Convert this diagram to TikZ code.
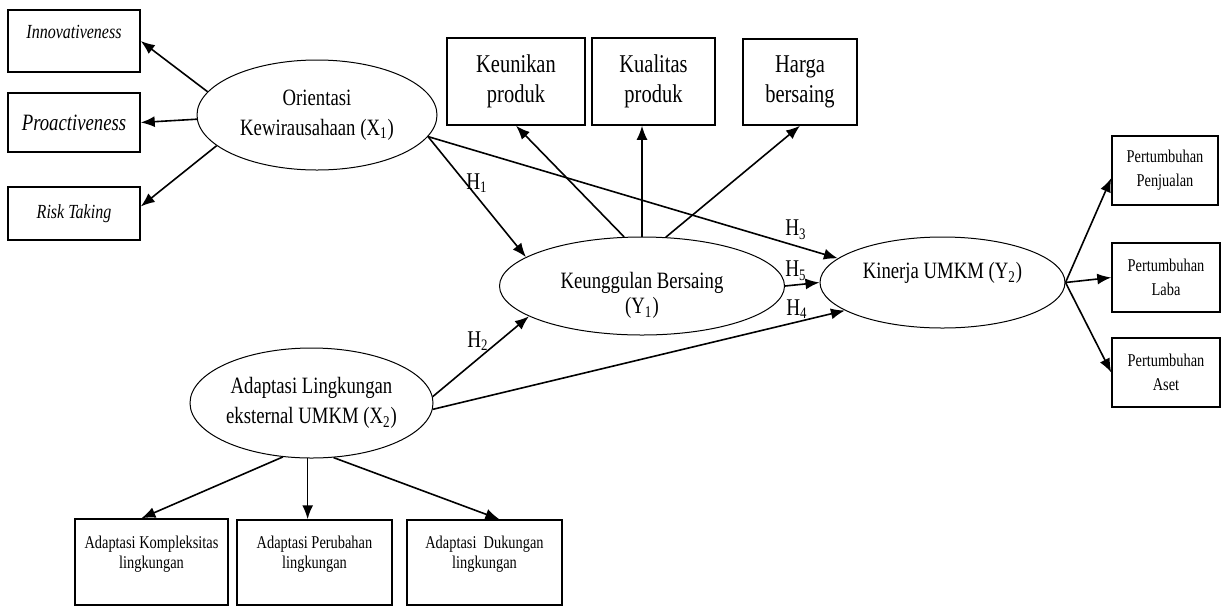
\documentclass[tikz,border=0pt]{standalone}
\usepackage{fontspec}
\setmainfont{Liberation Serif}[FakeStretch=0.8]
\usetikzlibrary{shapes.geometric,arrows.meta}

\begin{document}
\begin{tikzpicture}[x=0.5pt,y=-0.5pt,
  latent/.style={ellipse,draw,line width=0.5pt,inner sep=0pt,align=center,font=\fontsize{11.7}{15}\selectfont},
  ind/.style={rectangle,draw,line width=0.75pt,inner sep=0pt,align=center},
  arr/.style={-{Latex[length=7pt,width=5.5pt]},line width=0.8pt},
  hyp/.style={inner sep=0pt,font=\fontsize{12}{14}\selectfont}]
  \useasboundingbox (0,0) rectangle (1225,606);

  % latent variables
  \node[latent,minimum width=120pt,minimum height=55pt] (x1) at (317,115) {Orientasi\\Kewirausahaan (X\textsubscript{1})};
  \node[latent,minimum width=142.5pt,minimum height=49pt,font=\fontsize{11.7}{12.5}\selectfont,text height=27.5pt,text depth=0pt] (y1) at (642,286) {Keunggulan Bersaing\\(Y\textsubscript{1})};
  \node[latent,minimum width=122.5pt,minimum height=45.5pt] (y2) at (942.5,282.5) {Kinerja UMKM (Y\textsubscript{2})\\[-3pt]~};
  \node[latent,minimum width=121.5pt,minimum height=55pt] (x2) at (311.5,403) {Adaptasi Lingkungan\\eksternal UMKM (X\textsubscript{2})};

  % indicators X1
  \node[ind,minimum width=66pt,minimum height=31pt,font=\fontsize{10}{11}\selectfont\itshape] (inn) at (74,41) {Innovativeness\\[-2pt]~};
  \node[ind,minimum width=66pt,minimum height=29.5pt,font=\fontsize{11.7}{13}\selectfont\itshape] (pro) at (74,122.5) {Proactiveness};
  \node[ind,minimum width=66pt,minimum height=26.5pt,font=\fontsize{10}{11}\selectfont\itshape] (risk) at (74,213.5) {Risk Taking};

  % indicators Y1
  \node[ind,minimum width=69pt,minimum height=43.5pt,font=\fontsize{12.8}{15}\selectfont] (keu) at (516,81.5) {Keunikan\\produk};
  \node[ind,minimum width=61.5pt,minimum height=43.5pt,font=\fontsize{12.8}{15}\selectfont] (kual) at (653.5,81.5) {Kualitas\\produk};
  \node[ind,minimum width=57pt,minimum height=43pt,font=\fontsize{12.8}{15}\selectfont] (harga) at (800,82) {Harga\\bersaing};

  % indicators Y2
  \node[ind,minimum width=53pt,minimum height=34.5pt,font=\fontsize{9}{12}\selectfont] (pen) at (1165,170.5) {Pertumbuhan\\Penjualan};
  \node[ind,minimum width=54pt,minimum height=34.5pt,font=\fontsize{9}{12}\selectfont] (laba) at (1166,277.5) {Pertumbuhan\\Laba};
  \node[ind,minimum width=54pt,minimum height=34.5pt,font=\fontsize{9}{12}\selectfont] (aset) at (1166,372.5) {Pertumbuhan\\Aset};

  % indicators X2
  \node[ind,minimum width=76.5pt,minimum height=43pt,font=\fontsize{9}{10}\selectfont] (komp) at (151.5,562) {Adaptasi Kompleksitas\\lingkungan\\~};
  \node[ind,minimum width=77.5pt,minimum height=42.5pt,font=\fontsize{9}{10}\selectfont] (perub) at (314.5,562.5) {Adaptasi Perubahan\\lingkungan\\~};
  \node[ind,minimum width=77.5pt,minimum height=42.5pt,font=\fontsize{9}{10}\selectfont] (duk) at (484.5,562.5) {Adaptasi\ \ Dukungan\\lingkungan\\~};

  % hypotheses
  \node[hyp] (h1) at (477,183) {H\textsubscript{1}};
  \node[hyp] (h2) at (478,341) {H\textsubscript{2}};
  \node[hyp] (h3) at (796,230) {H\textsubscript{3}};
  \node[hyp] (h4) at (797,309) {H\textsubscript{4}};
  \node[hyp] (h5) at (796,271) {H\textsubscript{5}};

  \path[arr]
    (x1.168) edge (inn.east)
    (x1.182) edge (pro.east)
    (x1.197) edge (risk.6)
    (x1.349) edge (y1.166)
    (x1.349) edge (y2.167)
    (y1.110) edge (keu.south)
    (y1.north) edge (y1.north |- kual.south)
    (y1.64) edge (harga.south)
    (y1.east) edge (y2.west)
    (y2.east) edge (pen.188)
    (y2.east) edge (laba.west)
    (y2.east) edge (aset.west)
    (x2.3) edge (y1.195)
    (x2.357) edge (y2.196)
    (x2.242) edge (komp.103)
    (x2.266) edge (x2.266 |- perub.north)
    (x2.292) edge (duk.71);
\end{tikzpicture}
\end{document}
